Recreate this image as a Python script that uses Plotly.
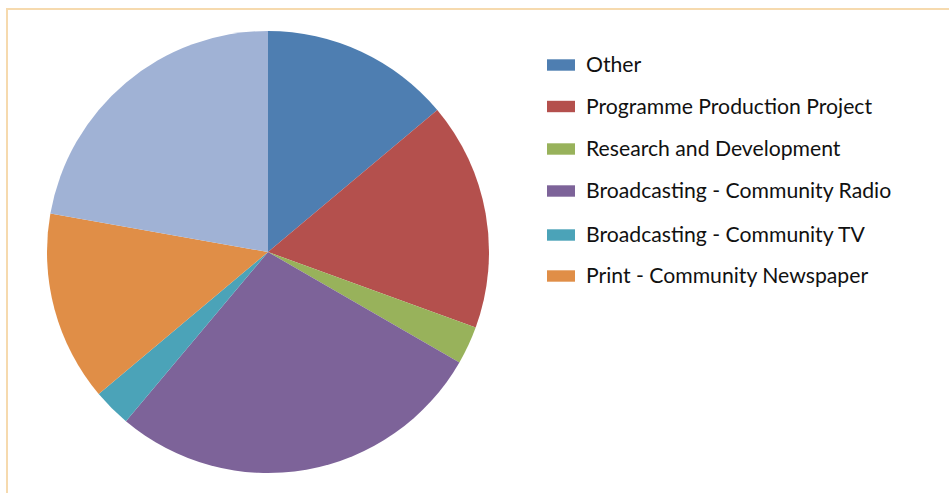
import plotly.graph_objects as go

# Project counts by category (clockwise from 12 o'clock)
categories = [
    "Other",
    "Programme Production Project",
    "Research and Development",
    "Broadcasting - Community Radio",
    "Broadcasting - Community TV",
    "Print - Community Newspaper",
    "Unspecified",
]
counts = [5, 6, 1, 10, 1, 5, 8]
colors = ["#4E7EB1", "#B4504D", "#98B25B", "#7D6399", "#4BA3B8", "#E08E47", "#A0B2D5"]

# Only the first six categories appear in the key
legend_count = 6
legend_rows_px = [65, 106.5, 149, 191, 235, 276]

W, H = 949, 493


def px_x(x):
    return x / W


def px_y(y):
    return 1 - y / H


cx, cy, r = 268, 252, 221

fig = go.Figure(
    go.Pie(
        labels=categories,
        values=counts,
        marker=dict(colors=colors, line=dict(width=0)),
        sort=False,
        direction="clockwise",
        rotation=0,
        textinfo="none",
        hoverinfo="label+value+percent",
        showlegend=False,
        domain=dict(x=[px_x(cx - r), px_x(cx + r)], y=[px_y(cy + r), px_y(cy - r)]),
    )
)

shapes = [
    # chart frame
    dict(type="rect", xref="paper", yref="paper",
         x0=px_x(7), x1=px_x(960), y0=px_y(505), y1=px_y(9),
         line=dict(color="#F6DAAE", width=2), fillcolor="rgba(0,0,0,0)", layer="below"),
]
annotations = []
for name, col, yc in zip(categories[:legend_count], colors[:legend_count], legend_rows_px):
    shapes.append(dict(type="rect", xref="paper", yref="paper",
                       x0=px_x(547), x1=px_x(575), y0=px_y(yc + 5.7), y1=px_y(yc - 5.7),
                       line=dict(width=0), fillcolor=col))
    annotations.append(dict(x=px_x(584), y=px_y(yc - 1), xref="paper", yref="paper",
                            text=name, showarrow=False, xanchor="left", yanchor="middle",
                            font=dict(family="Lato", size=21.2, color="#111111")))

fig.update_layout(
    width=W, height=H,
    margin=dict(l=0, r=0, t=0, b=0),
    paper_bgcolor="white",
    plot_bgcolor="white",
    shapes=shapes,
    annotations=annotations,
)

fig.write_html("out.html")
